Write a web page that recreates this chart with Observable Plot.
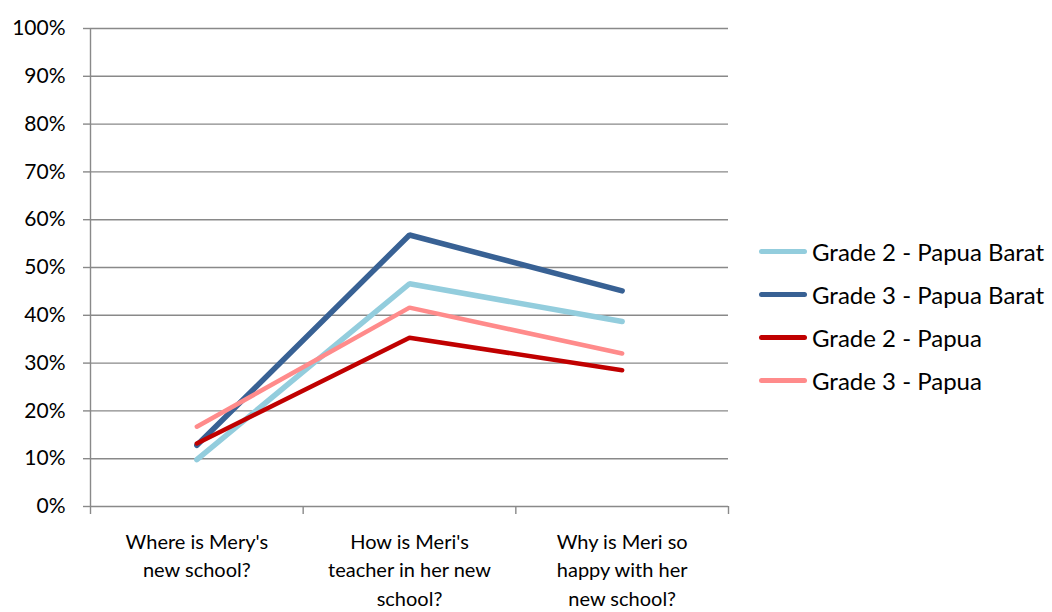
<!DOCTYPE html>
<html><head><meta charset="utf-8">
<script src="https://cdn.jsdelivr.net/npm/d3@7"></script>
<script src="https://cdn.jsdelivr.net/npm/@observablehq/plot@0.6"></script>
<style>
body{margin:0;background:#fff;font-family:Lato,"Open Sans",sans-serif;}
#wrap{position:relative;width:1052px;height:612px;}
#legend{position:absolute;left:759px;top:230px;}
.row{display:flex;align-items:center;height:43px;}
.sw{width:48px;border-radius:3px;margin-right:5px;}
.lab{font-size:24px;color:#000;white-space:nowrap;}
</style></head>
<body><div id="wrap"><div id="legend"></div></div>
<script>
const categories = ["Where is Mery's\nnew school?", "How is Meri's\nteacher in her new\nschool?", "Why is Meri so\nhappy with her\nnew school?"];
const seriesNames = ["Grade 2 - Papua Barat", "Grade 3 - Papua Barat", "Grade 2 - Papua", "Grade 3 - Papua"];
const grade2PapuaBarat = [9.8, 46.6, 38.7];
const grade3PapuaBarat = [12.8, 56.8, 45.1];
const grade2Papua = [13.2, 35.3, 28.5];
const grade3Papua = [16.7, 41.6, 32.0];
const yTicks = [0,10,20,30,40,50,60,70,80,90,100];

const seriesValues = [grade2PapuaBarat, grade3PapuaBarat, grade2Papua, grade3Papua];
const colors = ["#93CDDD", "#386194", "#C00000", "#FF8B8B"];
const widths = [5.5, 5.5, 4.5, 4.5];
const rows = seriesNames.flatMap((s, k) => seriesValues[k].map((v, i) => ({s, i, v})));
const bounds = [-0.5, 0.5, 1.5, 2.5];

const chart = Plot.plot({
  width: 1052, height: 612,
  marginLeft: 90, marginRight: 324, marginTop: 28, marginBottom: 106,
  style: {fontFamily: "Lato, 'Open Sans', sans-serif", background: "white"},
  x: {type: "linear", domain: [-0.5, 2.5], axis: null},
  y: {domain: [0, 100], axis: null},
  marks: [
    Plot.ruleY(yTicks, {stroke: "#898989", strokeWidth: 1.4}),
    Plot.ruleX([-0.5], {stroke: "#898989", strokeWidth: 1.4}),
    Plot.axisY({ticks: yTicks, label: null, tickSize: 7, tickPadding: 18, tickFormat: d => d + "%", fontSize: 21, stroke: "#898989", strokeWidth: 1.4, fill: "black"}),
    Plot.axisX({ticks: bounds, label: null, tickSize: 8, tickFormat: () => "", stroke: "#898989", strokeWidth: 1.4}),
    Plot.axisX({ticks: [0, 1, 2], label: null, tickSize: 0, tickPadding: 22, tickFormat: i => categories[i], fontSize: 20, lineHeight: 1.43, fill: "black"}),
    ...seriesNames.map((s, k) => Plot.line(rows.filter(d => d.s === s), {x: "i", y: "v", stroke: colors[k], strokeWidth: widths[k], strokeLinecap: "round", strokeLinejoin: "miter"}))
  ]
});
const wrap = document.getElementById("wrap");
wrap.insertBefore(chart, wrap.firstChild);

const legend = document.getElementById("legend");
seriesNames.forEach((s, k) => {
  const r = document.createElement("div"); r.className = "row";
  const sw = document.createElement("div"); sw.className = "sw";
  sw.style.background = colors[k]; sw.style.height = widths[k] + "px";
  const lab = document.createElement("div"); lab.className = "lab"; lab.textContent = s;
  r.appendChild(sw); r.appendChild(lab); legend.appendChild(r);
});
</script>
</body></html>
